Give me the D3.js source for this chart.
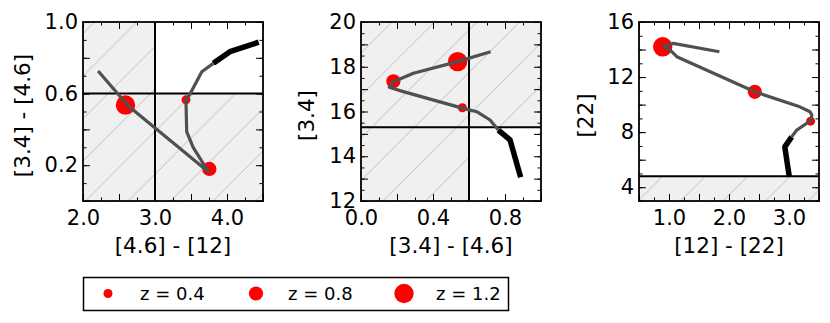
<!DOCTYPE html>
<html><head>
<meta charset="UTF-8">
<script src="https://cdn.jsdelivr.net/npm/d3@7"></script>
<style>
body{margin:0;background:#fff}
svg text{font-family:"DejaVu Sans",sans-serif;fill:#000}
.tick text{font-size:21px}
</style>
</head><body>
<div id="chart"></div>
<script>
// redshift markers shown in every panel
var zMarks = [0.4, 0.8, 1.2];

// panel 1 : [3.4]-[4.6] vs [4.6]-[12]
var p1LowX = [4.44, 4.04, 3.81];
var p1LowY = [0.887, 0.834, 0.769];
var p1X = [3.81, 3.65, 3.49, 3.43, 3.44, 3.53, 3.74, 2.63, 2.21];
var p1Y = [0.769, 0.722, 0.60, 0.564, 0.387, 0.30, 0.164, 0.531, 0.726];
var p1DotX = [3.43, 3.755, 2.59];
var p1DotY = [0.565, 0.179, 0.536];

// panel 2 : [3.4] vs [3.4]-[4.6]
var p2LowX = [0.887, 0.828, 0.763];
var p2LowY = [13.06, 14.73, 15.17];
var p2X = [0.763, 0.717, 0.643, 0.563, 0.235, 0.157, 0.18, 0.291, 0.537, 0.72];
var p2Y = [15.17, 15.62, 15.99, 16.15, 16.89, 17.08, 17.33, 17.71, 18.23, 18.67];
var p2DotX = [0.563, 0.18, 0.537];
var p2DotY = [16.17, 17.35, 18.23];

// panel 3 : [22] vs [12]-[22]
var p3LowX = [3.005, 2.93, 3.045];
var p3LowY = [4.75, 6.93, 7.66];
var p3X = [3.045, 3.13, 3.29, 3.37, 3.38, 3.35, 3.18, 2.43, 1.13, 1.02, 0.91, 1.07, 1.84];
var p3Y = [7.66, 8.15, 8.63, 8.85, 9.24, 9.48, 9.84, 10.93, 13.48, 13.96, 14.22, 14.45, 13.84];
var p3DotX = [3.36, 2.43, 0.895];
var p3DotY = [8.8, 10.93, 14.2];

// axis setup per panel
var xDomains = [[2.0, 4.5], [0.0, 1.0], [0.5, 3.5]];
var yDomains = [[0.0, 1.0], [12, 20], [3, 16]];
var xLabels = ["[4.6] - [12]", "[3.4] - [4.6]", "[12] - [22]"];
var yLabels = ["[3.4] - [4.6]", "[3.4]", "[22]"];
var xTickLabels = [[2.0, 3.0, 4.0], [0.0, 0.4, 0.8], [1.0, 2.0, 3.0]];
var yTickLabels = [[0.2, 0.6, 1.0], [12, 14, 16, 18, 20], [4, 8, 12, 16]];
var xMajorStep = [0.5, 0.2, 0.5], xMinorStep = [0.25, 0.1, 0.25];
var yMajorStep = [0.2, 1, 2], yMinorStep = [0.1, 0.5, 1];
var yFormats = [".1f", "d", "d"];

// selection cuts: [x0,x1,y0,y1] hatched boxes, plus cut lines
var shade1 = [[2.0, 3.0, 0.0, 1.0], [3.0, 4.5, 0.0, 0.6]];
var shade2 = [[0.0, 0.6, 12, 20], [0.6, 1.0, 15.3, 20]];
var shade3 = [[0.5, 3.5, 3, 4.8]];
var cutX = [3.0, 0.6, null];
var cutY = [0.6, 15.3, 4.8];

var W = 830, H = 323;
var svg = d3.select("#chart").append("svg").attr("width", W).attr("height", H);

var defs = svg.append("defs");
var pat = defs.append("pattern").attr("id", "hatch")
  .attr("patternUnits", "userSpaceOnUse")
  .attr("x", 31.5).attr("y", 0).attr("width", 42.5).attr("height", 42.5);
pat.append("rect").attr("width", 42.5).attr("height", 42.5).attr("fill", "#f0f0f0");
pat.append("path").attr("d", "M-2,2 L2,-2 M0,42.5 L42.5,0 M40.5,44.5 L44.5,40.5")
  .attr("stroke", "#b4b4b4").attr("stroke-width", 0.8);

var lefts = [83, 361, 639], plotTop = 22, pw = 180, ph = 179;
var yLabX = [22, 306, 585];

var panels = [
  {lowX: p1LowX, lowY: p1LowY, x: p1X, y: p1Y, dx: p1DotX, dy: p1DotY, shade: shade1},
  {lowX: p2LowX, lowY: p2LowY, x: p2X, y: p2Y, dx: p2DotX, dy: p2DotY, shade: shade2},
  {lowX: p3LowX, lowY: p3LowY, x: p3X, y: p3Y, dx: p3DotX, dy: p3DotY, shade: shade3}
];

var rScale = d3.scaleLinear().domain([0.4, 1.2]).range([4.5, 9.7]);

function steps(dom, st){
  var out = [];
  var s0 = Math.ceil(dom[0] / st - 1e-9);
  for (var k = s0; k * st <= dom[1] + 1e-9; k++) out.push(+(k * st).toFixed(4));
  return out;
}

panels.forEach(function(p, i){
  var x = d3.scaleLinear().domain(xDomains[i]).range([lefts[i], lefts[i] + pw]);
  var y = d3.scaleLinear().domain(yDomains[i]).range([plotTop + ph, plotTop]);
  var g = svg.append("g");

  // hatched regions
  g.selectAll("rect.shade").data(p.shade).enter().append("rect")
    .attr("class", "shade")
    .attr("x", function(d){ return x(d[0]); })
    .attr("width", function(d){ return x(d[1]) - x(d[0]); })
    .attr("y", function(d){ return y(d[3]); })
    .attr("height", function(d){ return y(d[2]) - y(d[3]); })
    .attr("fill", "url(#hatch)");

  // cut lines
  if (cutX[i] !== null) {
    g.append("line").attr("x1", x(cutX[i])).attr("x2", x(cutX[i]))
      .attr("y1", plotTop).attr("y2", plotTop + ph).attr("stroke", "#000").attr("stroke-width", 2);
  }
  g.append("line").attr("x1", lefts[i]).attr("x2", lefts[i] + pw)
    .attr("y1", y(cutY[i])).attr("y2", y(cutY[i])).attr("stroke", "#000").attr("stroke-width", 2);

  // redshift dots
  g.selectAll("circle").data(zMarks).enter().append("circle")
    .attr("cx", function(d, k){ return x(p.dx[k]); })
    .attr("cy", function(d, k){ return y(p.dy[k]); })
    .attr("r", function(d){ return rScale(d); })
    .attr("fill", "#ff0000");

  var line = d3.line().x(function(d){ return x(d[0]); }).y(function(d){ return y(d[1]); });
  g.append("path").datum(d3.zip(p.x, p.y)).attr("d", line)
    .attr("fill", "none").attr("stroke", "#505050").attr("stroke-width", 3.2)
    .attr("stroke-linejoin", "round");
  g.append("path").datum(d3.zip(p.lowX, p.lowY)).attr("d", line)
    .attr("fill", "none").attr("stroke", "#000").attr("stroke-width", 5.5)
    .attr("stroke-linejoin", "round");

  // ticks on all four sides, pointing inward
  var xMaj = steps(xDomains[i], xMajorStep[i]), xMin = steps(xDomains[i], xMinorStep[i]);
  var yMaj = steps(yDomains[i], yMajorStep[i]), yMin = steps(yDomains[i], yMinorStep[i]);
  var bottom = plotTop + ph, right = lefts[i] + pw;
  [[d3.axisBottom, x, xMin, 3.5, "0," + bottom], [d3.axisBottom, x, xMaj, 7, "0," + bottom],
   [d3.axisTop, x, xMin, 3.5, "0," + plotTop], [d3.axisTop, x, xMaj, 7, "0," + plotTop],
   [d3.axisLeft, y, yMin, 3.5, lefts[i] + ",0"], [d3.axisLeft, y, yMaj, 7, lefts[i] + ",0"],
   [d3.axisRight, y, yMin, 3.5, right + ",0"], [d3.axisRight, y, yMaj, 7, right + ",0"]]
  .forEach(function(a){
    var ax = g.append("g").attr("transform", "translate(" + a[4] + ")")
      .call(a[0](a[1]).tickValues(a[2]).tickSize(-a[3]).tickFormat(""));
    ax.select(".domain").remove();
    ax.selectAll("line").attr("stroke", "#000").attr("stroke-width", 1);
  });

  var xa = g.append("g").attr("transform", "translate(0," + bottom + ")")
    .call(d3.axisBottom(x).tickValues(xTickLabels[i]).tickSize(0).tickPadding(9)
      .tickFormat(d3.format(".1f")));
  xa.select(".domain").remove();
  var ya = g.append("g").attr("transform", "translate(" + lefts[i] + ",0)")
    .call(d3.axisLeft(y).tickValues(yTickLabels[i]).tickSize(0).tickPadding(5)
      .tickFormat(d3.format(yFormats[i])));
  ya.select(".domain").remove();

  // frame
  g.append("rect").attr("x", lefts[i]).attr("y", plotTop).attr("width", pw).attr("height", ph)
    .attr("fill", "none").attr("stroke", "#000").attr("stroke-width", 1.8);

  svg.append("text").attr("x", lefts[i] + pw / 2).attr("y", 245)
    .attr("text-anchor", "middle").attr("dominant-baseline", "central")
    .attr("font-size", 21.5).text(xLabels[i]);
  svg.append("text")
    .attr("transform", "translate(" + yLabX[i] + "," + (plotTop + ph / 2 + 4) + ") rotate(-90)")
    .attr("text-anchor", "middle").attr("dominant-baseline", "central")
    .attr("font-size", 21.5).text(yLabels[i]);
});

// legend
var legX = [108, 256, 404];
var leg = svg.append("g");
leg.append("rect").attr("x", 83.5).attr("y", 277.5).attr("width", 425).attr("height", 33)
  .attr("fill", "#fff").attr("stroke", "#000").attr("stroke-width", 1.5);
zMarks.forEach(function(z, k){
  leg.append("circle").attr("cx", legX[k]).attr("cy", 293.5).attr("r", rScale(z)).attr("fill", "#ff0000");
  leg.append("text").attr("x", legX[k] + 32).attr("y", 293.5)
    .attr("dominant-baseline", "central").attr("font-size", 18)
    .text("z = " + z.toFixed(1));
});
</script>
</body></html>
